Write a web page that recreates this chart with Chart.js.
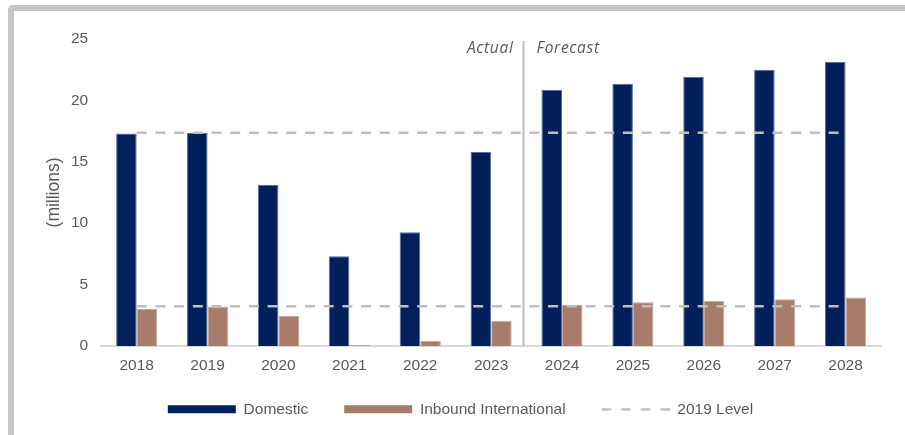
<!DOCTYPE html>
<html>
<head>
<meta charset="utf-8">
<script src="https://cdn.jsdelivr.net/npm/chart.js@4"></script>
<style>
  html, body { margin: 0; padding: 0; background: #fff; }
  #wrap { position: relative; width: 905px; height: 435px; overflow: hidden; }
  #frame { position: absolute; left: 8px; top: 5px; width: 1000px; height: 1000px;
           border-top: 6px solid #c6c6c6; border-left: 6px solid #c6c6c6; border-top-left-radius: 5px; }
  canvas { position: absolute; left: 0; top: 0; }
</style>
</head>
<body>
<div id="wrap">
  <div id="frame"></div>
  <canvas id="visitors" width="905" height="435"></canvas>
</div>
<script>
const years = ['2018', '2019', '2020', '2021', '2022', '2023', '2024', '2025', '2026', '2027', '2028'];
const domestic = [17.3, 17.35, 13.1, 7.3, 9.25, 15.8, 20.85, 21.35, 21.9, 22.5, 23.15];
const inbound = [3.0, 3.2, 2.45, 0.08, 0.4, 2.05, 3.35, 3.55, 3.65, 3.8, 3.95];
const domestic2019 = 17.37;
const inbound2019 = 3.22;
const yTicks = [0, 5, 10, 15, 20, 25];

const grey = '#595959';
const dash = [10, 8.7];

// petit trait pointillé pour la légende
const dashIcon = document.createElement('canvas');
dashIcon.width = 68;
dashIcon.height = 4;
const dctx = dashIcon.getContext('2d');
dctx.fillStyle = '#bfbfbf';
for (let x = 0; x < 68; x += 19.6) dctx.fillRect(x, 1, 9.5, 2.5);

// ligne verticale + textes Actual / Forecast
const splitPlugin = {
  id: 'split',
  afterLayout(chart) {
    // l'axe x a été raccourci (afterFit), on lui rend sa hauteur pour ne pas couper les libellés
    chart.scales.x.bottom += 30;
  },
  afterDatasetsDraw(chart) {
    const ctx = chart.ctx;
    const x = chart.scales.x;
    const y = chart.scales.y;
    const xp = (x.getPixelForValue(5) + x.getPixelForValue(6)) / 2 - 3;
    ctx.save();
    ctx.strokeStyle = '#bfbfbf';
    ctx.lineWidth = 2;
    ctx.beginPath();
    ctx.moveTo(xp, y.getPixelForValue(25) + 2);
    ctx.lineTo(xp, y.getPixelForValue(0));
    ctx.stroke();
    ctx.fillStyle = grey;
    ctx.font = 'italic 15.5px "Open Sans"';
    ctx.letterSpacing = '0.7px';
    ctx.textBaseline = 'middle';
    ctx.textAlign = 'right';
    ctx.fillText('Actual', xp - 10, y.getPixelForValue(25) + 10);
    ctx.textAlign = 'left';
    ctx.fillText('Forecast', xp + 13, y.getPixelForValue(25) + 10);
    ctx.restore();
  }
};

new Chart(document.getElementById('visitors').getContext('2d'), {
  type: 'bar',
  data: {
    labels: years,
    datasets: [{
      label: 'Domestic',
      data: domestic,
      backgroundColor: '#001f5b',
      borderColor: '#5a6f99',
      borderWidth: 1,
      order: 2
    }, {
      label: 'Inbound International',
      data: inbound,
      backgroundColor: '#a77c6a',
      borderColor: '#c7aa9c',
      borderWidth: 1,
      order: 2
    }, {
      type: 'line',
      label: '2019 Level',
      data: years.map(() => domestic2019),
      borderColor: '#bfbfbf',
      backgroundColor: '#bfbfbf',
      borderWidth: 2.5,
      borderDash: dash,
      pointRadius: 0,
      order: 0
    }, {
      type: 'line',
      label: 'inbound2019',
      data: years.map(() => inbound2019),
      borderColor: '#bfbfbf',
      borderWidth: 2.5,
      borderDash: dash,
      pointRadius: 0,
      order: 0
    }]
  },
  options: {
    responsive: false,
    animation: false,
    datasets: {
      bar: { categoryPercentage: 0.58, barPercentage: 1 }
    },
    layout: { padding: { top: 39, right: 24, left: 40, bottom: 8 } },
    scales: {
      x: {
        grid: { display: false },
        border: { color: '#d9d9d9', width: 2 },
        ticks: { color: grey, font: { family: 'Liberation Sans', size: 15.5 }, padding: 3 },
        // rapproche la légende des libellés
        afterFit: axis => { axis.height -= 13; }
      },
      y: {
        min: 0,
        max: 25,
        afterBuildTicks: axis => { axis.ticks = yTicks.map(v => ({ value: v })); },
        grid: { display: false },
        border: { display: false },
        ticks: { color: grey, font: { family: 'Liberation Sans', size: 15.5 }, padding: 5 },
        title: {
          display: true,
          text: '(millions)',
          color: grey,
          font: { family: 'Liberation Sans', size: 17.5 },
          padding: { bottom: 1 }
        }
      }
    },
    plugins: {
      legend: {
        position: 'bottom',
        labels: {
          filter: item => item.text !== 'inbound2019',
          sort: (a, b) => a.datasetIndex - b.datasetIndex,
          usePointStyle: true,
          pointStyleWidth: 68,
          boxHeight: 8,
          padding: 36,
          color: grey,
          font: { family: 'Liberation Sans', size: 15.5 },
          generateLabels: chart => Chart.defaults.plugins.legend.labels.generateLabels(chart).map(l => {
            l.pointStyle = l.text === '2019 Level' ? dashIcon : 'rect';
            l.lineWidth = 0;
            return l;
          })
        }
      },
      tooltip: { enabled: false }
    }
  },
  plugins: [splitPlugin]
});
</script>
</body>
</html>
